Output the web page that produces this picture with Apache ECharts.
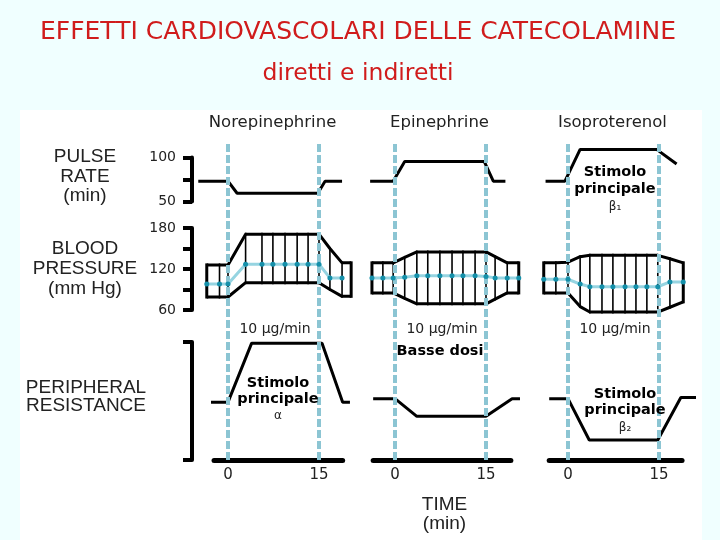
<!DOCTYPE html>
<html>
<head>
<meta charset="utf-8">
<title>Effetti cardiovascolari delle catecolamine</title>
<script src="https://cdn.jsdelivr.net/npm/echarts@6/dist/echarts.min.js"></script>
<style>
  html, body { margin: 0; padding: 0; background: #f0ffff; }
  #chart { width: 720px; height: 540px; }
</style>
</head>
<body>
<div id="chart"></div>
<script>
// Data (time in min, one row per drug)
var drugs = ['Norepinephrine', 'Epinephrine', 'Isoproterenol'];
var doseLabel = '10 μg/min';

// Pulse rate (beats/min)
var pulseT = [
  [-4.9, 0, 1.5, 14.8, 16, 18.8],
  [-4.1, -0.3, 1.6, 14.7, 16.2, 18.2],
  [-3.7, -0.5, 2, 14.6, 17.9]
];
var pulseV = [
  [73, 73, 59, 59, 73, 73],
  [73, 73, 96, 96, 73, 73],
  [73, 73, 110, 110, 93]
];

// Blood pressure (mm Hg), sampled at the hatch lines
var bpT = [
  [-3.5, -1.4, 0, 2.9, 5.6, 7.4, 9.4, 11.4, 13.2, 15, 16.8, 18.8, 20.3],
  [-3.8, -2, -0.3, 1.6, 3.6, 5.4, 7.4, 9.4, 11.2, 13.2, 15, 16.5, 18.5, 20.4],
  [-4, -2, 0, 2, 3.6, 5.6, 7.4, 9.4, 11.2, 13, 14.8, 16.8, 19]
];
var bpSys = [
  [126, 126, 126, 171, 171, 171, 171, 171, 171, 171, 150, 129, 129],
  [129, 129, 129, 137, 145, 145, 145, 145, 145, 145, 145, 138, 129, 129],
  [129, 129, 130, 138, 140, 140, 140, 140, 140, 140, 140, 135, 129]
];
var bpDia = [
  [79, 79, 79, 100, 100, 100, 100, 100, 100, 100, 90, 80, 80],
  [85, 85, 85, 77, 69, 69, 69, 69, 69, 69, 69, 76, 85, 85],
  [85, 85, 85, 65, 57, 57, 57, 57, 57, 57, 57, 64, 72]
];
var bpMean = [
  [98, 98, 98, 127, 127, 127, 127, 127, 127, 127, 107, 107, null],
  [107, 107, 107, 108, 110, 110, 110, 110, 110, 110, 109, 107, 107, 107],
  [105, 105, 105, 98, 94, 94, 94, 94, 94, 94, 94, 101, 101]
];

// Peripheral resistance (relative units, 0-100)
var resT = [
  [-2.8, 0, 3.9, 15.5, 18.9, 20.1],
  [-3.6, 0, 3.6, 15, 19.3, 20.6],
  [-3.1, 0, 3.5, 14.8, 18.6, 21.1]
];
var resV = [
  [49, 49, 99, 99, 49, 49],
  [52, 52, 37, 37, 52, 52],
  [52, 52, 17, 17, 53, 53]
];

// Time bar extents and ticks
var timeMin = [-2.3, -3.6, -3.1];
var timeMax = [18.9, 19.1, 18.8];
var timeTicks = [0, 15];
var pulseTicks = [50, 75, 100];
var pulseLabels = [50, 100];
var bpTicks = [60, 90, 120, 150, 180];
var bpLabels = [60, 120, 180];

// Layout
var SANS = '"DejaVu Sans", sans-serif';
var ARIAL = '"Liberation Sans", Arial, sans-serif';
var INK = '#222';
var pxPerMin = 91 / 15;
var colX0 = [228, 395, 568];
var tFrom = -5, tTo = 21.5;

var chart = echarts.init(document.getElementById('chart'), null, {renderer: 'canvas'});

var grids = [], xAxes = [], yAxes = [], series = [];

function addGrid(left, width, top, height, xa, ya) {
  grids.push({left: left, top: top, width: width, height: height, containLabel: false});
  var i = grids.length - 1;
  xa.gridIndex = i;
  ya.gridIndex = i;
  xAxes.push(xa);
  yAxes.push(ya);
  return i;
}

function hidden(min, max) {
  return {type: 'value', min: min, max: max, show: false};
}

function pairs(xs, ys) {
  var out = [];
  xs.forEach(function(x, i) {
    if (ys[i] != null) out.push([x, ys[i]]);
  });
  return out;
}

function blackLine(g, data) {
  return {
    type: 'line', xAxisIndex: g, yAxisIndex: g, data: data,
    symbol: 'none', clip: false, silent: true, z: 3,
    lineStyle: {color: '#000', width: 3}
  };
}

drugs.forEach(function(name, c) {
  var left = colX0[c] + tFrom * pxPerMin;
  var width = (tTo - tFrom) * pxPerMin;

  // pulse row: 50 at y=201, 0.86 px per beat
  var gP = addGrid(left, width, 140.8, 77.4, hidden(tFrom, tTo), hidden(30, 120));
  series.push(blackLine(gP, pairs(pulseT[c], pulseV[c])));

  // blood pressure row: 60 at y=310, 82 px per 120 mm Hg
  var gB = addGrid(left, width, 214.33, 109.33, hidden(tFrom, tTo), hidden(40, 200));
  var n = bpT[c].length;
  series.push({
    type: 'custom', xAxisIndex: gB, yAxisIndex: gB, silent: true, z: 2,
    data: bpT[c].map(function(t, i) { return [t, bpSys[c][i], bpDia[c][i]]; }),
    renderItem: function(params, api) {
      var a = api.coord([api.value(0), api.value(1)]);
      var b = api.coord([api.value(0), api.value(2)]);
      var edge = params.dataIndex === 0 || params.dataIndex === n - 1;
      return {
        type: 'line',
        shape: {x1: a[0], y1: a[1] - 1.5, x2: b[0], y2: b[1] + 1.5},
        style: {stroke: '#000', lineWidth: edge ? 3 : 1.6}
      };
    }
  });
  series.push(blackLine(gB, pairs(bpT[c], bpSys[c])));
  series.push(blackLine(gB, pairs(bpT[c], bpDia[c])));
  series.push({
    type: 'line', xAxisIndex: gB, yAxisIndex: gB, data: pairs(bpT[c], bpMean[c]),
    symbol: 'circle', symbolSize: 5, clip: false, silent: true, z: 6,
    itemStyle: {color: '#1590aa'},
    lineStyle: {color: '#96d4e1', width: 3}
  });

  // peripheral resistance row: 0 at y=460, 100 at y=342
  var gR = addGrid(left, width, 330.2, 141.6, hidden(tFrom, tTo), hidden(-10, 110));
  series.push(blackLine(gR, pairs(resT[c], resV[c])));

  // time bar with dashed infusion markers
  var gT = addGrid(colX0[c] + timeMin[c] * pxPerMin, (timeMax[c] - timeMin[c]) * pxPerMin, 142, 318,
    {
      type: 'value', min: timeMin[c], max: timeMax[c],
      axisLine: {show: true, onZero: false, lineStyle: {color: '#000', width: 5}},
      axisTick: {show: false},
      splitLine: {show: false},
      axisLabel: {customValues: timeTicks, fontSize: 15, fontFamily: SANS, color: INK, margin: 8}
    },
    hidden(0, 1));
  series.push({
    type: 'line', xAxisIndex: gT, yAxisIndex: gT, data: [], z: 5,
    markLine: {
      silent: true, symbol: 'none', label: {show: false}, animation: false,
      lineStyle: {color: '#8cc5d3', width: 4, type: [8, 3]},
      data: timeTicks.map(function(t) { return {xAxis: t}; })
    }
  });
});

// Left-hand scale brackets
function bracket(top, height, ticks, labels) {
  addGrid(192, 10, top, height, hidden(0, 1), {
    type: 'value', position: 'left',
    min: ticks[0], max: ticks[ticks.length - 1],
    interval: ticks[1] - ticks[0],
    axisLine: {show: true, lineStyle: {color: '#000', width: 4}},
    axisTick: {show: true, length: 9, lineStyle: {color: '#000', width: 4}},
    splitLine: {show: false},
    axisLabel: {
      show: labels.length > 0, margin: 16, fontSize: 14, fontFamily: SANS, color: INK,
      formatter: function(v) { return labels.indexOf(v) >= 0 ? String(v) : ''; }
    }
  });
}
bracket(157.5, 44, pulseTicks, pulseLabels);
bracket(228, 82, bpTicks, bpLabels);
bracket(342, 118, [0, 100], []);

function text(str, x, y, font, fill, lineHeight) {
  return {
    type: 'text', x: x, y: y, silent: true, z: 100,
    style: {
      text: str, font: font, fill: fill || INK,
      align: 'center', verticalAlign: 'middle', lineHeight: lineHeight || 20
    }
  };
}

var graphics = [
  {type: 'rect', shape: {x: 20, y: 110, width: 682, height: 430}, style: {fill: '#fff'}, silent: true, z: -10},
  text('EFFETTI CARDIOVASCOLARI DELLE CATECOLAMINE', 358, 32, '25px ' + SANS, '#d01c1c'),
  text('diretti e indiretti', 358, 74, '23.5px ' + SANS, '#d01c1c'),
  text('PULSE\nRATE\n(min)', 85, 176.5, '19px ' + ARIAL, INK, 19.5),
  text('BLOOD\nPRESSURE\n(mm Hg)', 85, 268.5, '19px ' + ARIAL, INK, 20),
  text('PERIPHERAL\nRESISTANCE', 86, 397, '19px ' + ARIAL, INK, 17.5),
  text('TIME\n(min)', 444.5, 514.5, '19px ' + ARIAL, INK, 18.5),
  text('Basse dosi', 440, 351, 'bold 14.5px ' + SANS, '#000'),
  text('Stimolo\nprincipale', 615, 180.5, 'bold 14.5px ' + SANS, '#000', 16.5),
  text('β₁', 615, 207, '12px ' + SANS, INK),
  text('Stimolo\nprincipale', 278, 391, 'bold 14.5px ' + SANS, '#000', 16),
  text('α', 278, 416, '12px ' + SANS, INK),
  text('Stimolo\nprincipale', 625, 402.5, 'bold 14.5px ' + SANS, '#000', 16),
  text('β₂', 625, 428, '12px ' + SANS, INK)
];
drugs.forEach(function(name, c) {
  graphics.push(text(name, colX0[c] + 44.5, 122.5, '16.5px ' + SANS, INK));
  graphics.push(text(doseLabel, colX0[c] + 47, 329.5, '14px ' + SANS, INK));
});

chart.setOption({
  animation: false,
  backgroundColor: '#f0ffff',
  grid: grids,
  xAxis: xAxes,
  yAxis: yAxes,
  series: series,
  graphic: graphics
});
</script>
</body>
</html>
